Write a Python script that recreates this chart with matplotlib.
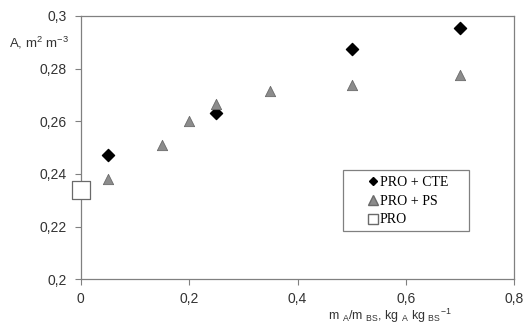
import matplotlib
matplotlib.use("Agg")
import matplotlib.pyplot as plt
from matplotlib.patches import Rectangle
from matplotlib.lines import Line2D

# data
cte_x = [0.05, 0.25, 0.5, 0.7]
cte_y = [0.2471, 0.2633, 0.2876, 0.2956]
ps_x = [0.05, 0.15, 0.2, 0.25, 0.35, 0.5, 0.7]
ps_y = [0.2381, 0.2511, 0.2601, 0.2665, 0.2715, 0.2738, 0.2775]
pro_x = [0.0]
pro_y = [0.2341]
x_ticks = [0, 0.2, 0.4, 0.6, 0.8]
y_ticks = [0.2, 0.22, 0.24, 0.26, 0.28, 0.3]
labels = ["PRO + CTE", "PRO + PS", "PRO"]

plt.rcParams['font.family'] = ['Liberation Sans', 'DejaVu Sans']
plt.rcParams['mathtext.fontset'] = 'custom'
plt.rcParams['mathtext.rm'] = 'Liberation Sans'

fig = plt.figure(figsize=(5.26, 3.25), dpi=100)
ax = fig.add_axes([0.1534, 0.1406, 0.8244, 0.8102])

gray = '#808080'
ax.scatter(cte_x, cte_y, marker='D', s=38, color='black', zorder=3)
ax.scatter(ps_x, ps_y, marker='^', s=55, color='#8c8c8c', edgecolor='#6a6a6a', linewidth=0.6, zorder=3)
ax.scatter(pro_x, pro_y, marker='s', s=150, facecolor='white', edgecolor='#6a6a6a', linewidth=0.9, zorder=4, clip_on=False)

ax.set_xlim(0, 0.8)
ax.set_ylim(0.2, 0.3)
ax.set_xticks(x_ticks)
ax.set_yticks(y_ticks)

def fmt(v):
    s = ('%.2f' % v).rstrip('0').rstrip('.')
    return s.replace('.', ',')

ax.set_xticklabels([fmt(v) for v in x_ticks])
ax.set_yticklabels([fmt(v) for v in y_ticks])
ax.tick_params(direction='out', length=4, width=0.8, color=gray, labelsize=10, labelcolor='#333333', pad=6)
ax.tick_params(axis='x', pad=5)
for sp in ax.spines.values():
    sp.set_color(gray)
    sp.set_linewidth(0.9)

fig.text(0.018, 0.855, r'A, m$^\mathrm{2}$ m$^\mathrm{-3}$', fontsize=9.5, color='#333333')
fig.text(0.742, 0.0, r'm $_\mathrm{A}$/m $_\mathrm{BS}$, kg $_\mathrm{A}$ kg $_\mathrm{BS}$$^\mathrm{-1}$',
         fontsize=9, color='#333333', ha='center', va='bottom')

# legend drawn without frame, box added separately
ax.add_patch(Rectangle((0.605, 0.183), 0.291, 0.232, transform=ax.transAxes, facecolor='white',
                       edgecolor=gray, linewidth=0.9, zorder=5))
handles = [
    Line2D([], [], marker='D', ls='', color='black', markersize=4.5),
    Line2D([], [], marker='^', ls='', color='#8c8c8c', markeredgecolor='#6a6a6a', markersize=6.5),
    Line2D([], [], marker='s', ls='', markerfacecolor='white', markeredgecolor='#6a6a6a', markersize=6.5),
]
leg = ax.legend(handles, labels, loc='upper left', bbox_to_anchor=(0.643, 0.43), frameon=False,
                prop={'family': 'Liberation Serif', 'size': 10}, handlelength=0.6, handletextpad=0.15,
                labelspacing=0.42, borderpad=0.2)
leg.set_zorder(6)

fig.savefig('out.png', dpi=100)
